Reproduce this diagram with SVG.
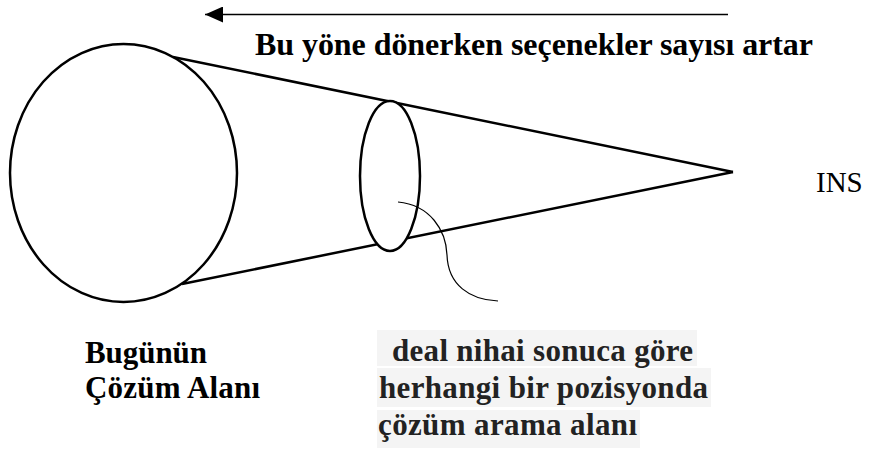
<svg xmlns="http://www.w3.org/2000/svg" width="871" height="450" viewBox="0 0 871 450">
<defs>
<style>
.ln{fill:none;stroke:#000;stroke-width:2.5}
.el{fill:#fff;stroke:#000;stroke-width:2.5}
.t{font-family:"Liberation Serif","Times New Roman",serif;fill:#000}
.b{font-weight:bold;font-size:31px}
.h{font-size:32px}
.g{fill:#222}
.bg{fill:#f4f4f4}
</style>
<marker id="ah" markerWidth="18" markerHeight="16" refX="18" refY="8" orient="auto" markerUnits="userSpaceOnUse">
<path d="M0,0 L18,8 L0,16 Z" fill="#000"/>
</marker>
</defs>
<rect width="871" height="450" fill="#fff"/>
<g id="connectors">
<line class="ln" x1="173" y1="57" x2="733" y2="172"/>
<line class="ln" x1="182" y1="284" x2="733" y2="172"/>
<line x1="728" y1="14.5" x2="205" y2="14.5" stroke="#000" stroke-width="1.5" marker-end="url(#ah)"/>
</g>
<g id="big-ellipse"><ellipse class="el" cx="123.5" cy="173" rx="113.5" ry="129"/></g>
<g id="small-ellipse"><ellipse class="el" cx="390" cy="176" rx="30" ry="75"/></g>
<g id="pointer"><path d="M398,202 C430,205 446,230 447,255 C448,285 470,300 498,301" fill="none" stroke="#000" stroke-width="1.2"/></g>
<g id="heading"><text class="t b h" x="255" y="55" textLength="558">Bu yöne dönerken seçenekler sayısı artar</text></g>
<g id="ins"><text class="t" x="816" y="192" font-size="29">INS</text></g>
<g id="today">
<text class="t b" x="85" y="363" textLength="122">Bugünün</text>
<text class="t b" x="85" y="398" textLength="175">Çözüm Alanı</text>
</g>
<g id="search">
<rect class="bg" x="377" y="330" width="320" height="36"/>
<rect class="bg" x="377" y="368" width="334" height="39"/>
<rect class="bg" x="377" y="410" width="263" height="38"/>
<text class="t b g" x="392" y="361" textLength="301">deal nihai sonuca göre</text>
<text class="t b g" x="379" y="398" textLength="329">herhangi bir pozisyonda</text>
<text class="t b g" x="378" y="435" textLength="259">çözüm arama alanı</text>
</g>
</svg>
